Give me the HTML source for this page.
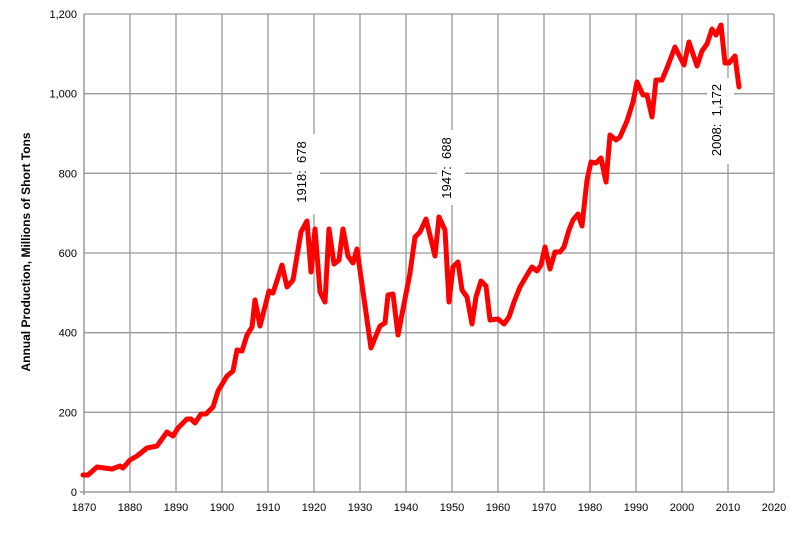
<!DOCTYPE html>
<html><head><meta charset="utf-8"><style>
body{margin:0;background:#fff}
svg{display:block;font-family:"Liberation Sans",sans-serif}
</style></head><body>
<svg width="800" height="533" viewBox="0 0 800 533">
<g stroke="#999" stroke-width="1.3">
<line x1="84" y1="14" x2="774" y2="14"/><line x1="84" y1="93.7" x2="774" y2="93.7"/><line x1="84" y1="173.3" x2="774" y2="173.3"/><line x1="84" y1="253" x2="774" y2="253"/><line x1="84" y1="332.7" x2="774" y2="332.7"/><line x1="84" y1="412.3" x2="774" y2="412.3"/>
<line x1="130" y1="14" x2="130" y2="492"/><line x1="176" y1="14" x2="176" y2="492"/><line x1="222" y1="14" x2="222" y2="492"/><line x1="268" y1="14" x2="268" y2="492"/><line x1="314" y1="14" x2="314" y2="492"/><line x1="360" y1="14" x2="360" y2="492"/><line x1="406" y1="14" x2="406" y2="492"/><line x1="452" y1="14" x2="452" y2="492"/><line x1="498" y1="14" x2="498" y2="492"/><line x1="544" y1="14" x2="544" y2="492"/><line x1="590" y1="14" x2="590" y2="492"/><line x1="636" y1="14" x2="636" y2="492"/><line x1="682" y1="14" x2="682" y2="492"/><line x1="728" y1="14" x2="728" y2="492"/><line x1="774" y1="14" x2="774" y2="492"/>
</g>
<g stroke="#888" stroke-width="1.3"><line x1="84" y1="14" x2="84" y2="495"/><line x1="80" y1="492" x2="774" y2="492"/></g>
<g font-size="11" text-anchor="end" fill="#000">
<text x="77" y="18">1,200</text><text x="77" y="97.7">1,000</text><text x="77" y="177.3">800</text><text x="77" y="257">600</text><text x="77" y="336.7">400</text><text x="77" y="416.3">200</text><text x="77" y="496">0</text>
</g>
<g font-size="11" text-anchor="middle">
<text x="84" y="511">1870</text><text x="130" y="511">1880</text><text x="176" y="511">1890</text><text x="222" y="511">1900</text><text x="268" y="511">1910</text><text x="314" y="511">1920</text><text x="360" y="511">1930</text><text x="406" y="511">1940</text><text x="452" y="511">1950</text><text x="498" y="511">1960</text><text x="544" y="511">1970</text><text x="590" y="511">1980</text><text x="636" y="511">1990</text><text x="682" y="511">2000</text><text x="728" y="511">2010</text><text x="774" y="511">2020</text>
</g>
<text transform="translate(30,252) rotate(-90)" font-size="12" font-weight="bold" text-anchor="middle">Annual Production, Millions of Short Tons</text>
<rect x="292" y="134" width="28" height="80" fill="#fff"/>
<rect x="437" y="130" width="28" height="75" fill="#fff"/>
<rect x="707" y="78" width="27" height="86" fill="#fff"/>
<polyline fill="none" stroke="#ff0000" stroke-width="5" stroke-linejoin="round" stroke-linecap="round" points="83,475 88,475 97,467 112,469 120,466 123,468 130,460 137,456 147,448 157,446 167,432 173,436 178,428 187,419 191,419 195,423 201,414 206,414 213,407 218,391 227,376 233,371 237,350 242,351 247,335 252,327 255,300 260,326 269,291 273,293 282,265 287,287 293,280 301,232 307,221 311,272 315,229 320,292 325,302 329,229 334,264 339,260 343,229 348,256 353,263 357,249 371,348 375,338 380,326 385,323 388,295 393,294 398,335 410,273 415,237 420,232 426,219 435,256 439,217 445,230 449,302 453,267 458,262 462,290 467,297 472,324 476,297 481,281 486,286 490,320 498,319 504,324 509,317 514,302 520,287 527,275 532,267 537,271 541,265 545,247 550,269 555,252 560,252 564,247 569,230 573,220 578,214 582,226 587,180 591,162 596,163 601,158 606,182 610,135 616,140 620,137 627,121 633,102 637,82 643,95 647,95 652,117 656,80 662,80 667,68 675,47 684,65 689,42 697,66 702,51 707,44 712,29 716,35 721,25 725,63 729,63 735,56 739,87"/>
<g font-size="13" text-anchor="middle">
<text transform="translate(306,172) rotate(-90)">1918:&#160; 678</text>
<text transform="translate(451,168) rotate(-90)">1947:&#160; 688</text>
<text transform="translate(721,120) rotate(-90)">2008:&#160; 1,172</text>
</g>
</svg>
</body></html>
